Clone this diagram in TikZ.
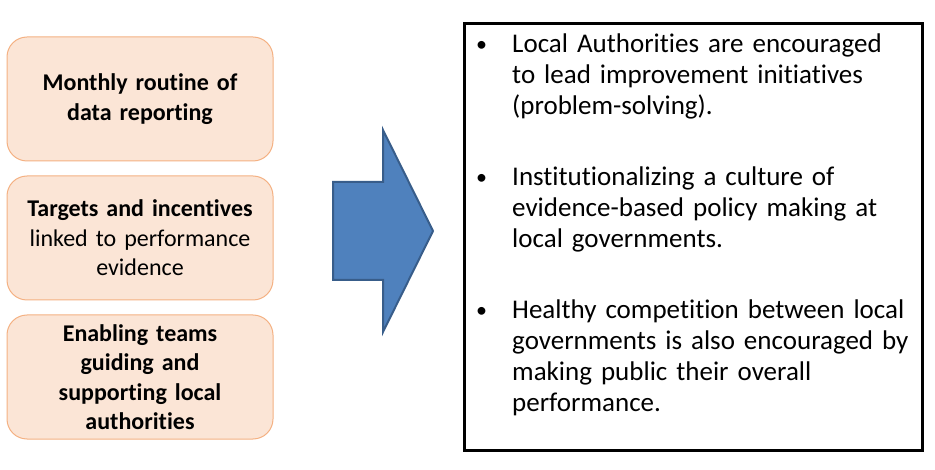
\documentclass[tikz,border=0pt]{standalone}
\usepackage{fontspec}
\setmainfont{Carlito}[Ligatures=NoCommon]
\usetikzlibrary{positioning}
\definecolor{peachfill}{HTML}{FBE5D6}
\definecolor{peachline}{HTML}{F4B183}
\definecolor{arrowfill}{HTML}{4F81BD}
\definecolor{arrowline}{HTML}{385D8A}

\begin{document}
\begin{tikzpicture}[x=1pt,y=-1pt,
    causebox/.style={draw=peachline, fill=peachfill, line width=1pt, rounded corners=20pt,
      minimum width=266pt, minimum height=124pt, text width=250pt, align=center,
      font=\fontsize{24}{29.5}\selectfont},
    bulletdot/.style={anchor=base west, inner sep=0pt, font=\fontsize{22}{31}\selectfont},
    bullettext/.style={anchor=base west, inner sep=0pt, text width=405pt, align=left,
      font=\fontsize{27}{31}\selectfont}]
    \useasboundingbox (0,0) rectangle (935,470);
    % left column
    \node[causebox] (routine) at (140,99) {\textbf{Monthly routine of}\\\textbf{data reporting}};
    \node[causebox] (targets) at (140,238) {\textbf{Targets and incentives}\\linked to performance\\evidence};
    \node[causebox] (teams) at (140,377) {\textbf{Enabling teams}\\\textbf{guiding and}\\\textbf{supporting local}\\\textbf{authorities}};
    % block arrow
    \coordinate (shaftTL) at (333,182);
    \coordinate (shaftBL) at (333,280);
    \coordinate (tip) at (433,231);
    \draw[line width=2pt, fill=arrowfill, draw=arrowline, line join=miter]
      (shaftTL) -- (383,182) -- (383,130) -- (tip) -- (383,332) -- (383,280) -- (shaftBL) -- cycle;
    % outcome box
    \node[draw, line width=3pt, minimum width=458pt, minimum height=426pt, inner sep=0pt] (outcome) at (693,237) {};
    \node[bulletdot] (dotA) at (476,52) {•};
    \node[bullettext] (lead) at (512,53) {Local Authorities are encouraged\\to lead improvement initiatives\\(problem-solving).};
    \node[bulletdot] (dotB) at (476,185) {•};
    \node[bullettext] (culture) at (512,186) {Institutionalizing a culture of\\evidence-based policy making at\\local governments.};
    \node[bulletdot] (dotC) at (476,318) {•};
    \node[bullettext] (compete) at (512,319) {Healthy competition between local\\governments is also encouraged by\\making public their overall\\performance.};
\end{tikzpicture}
\end{document}
